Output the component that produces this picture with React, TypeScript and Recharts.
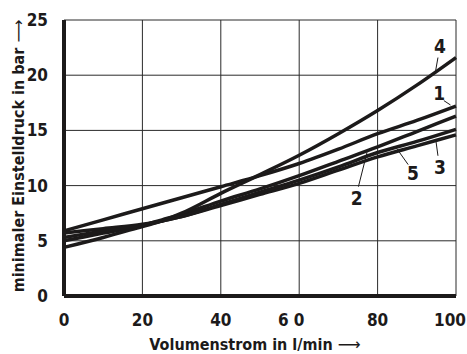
import React from "react";
import {
  LineChart,
  Line,
  XAxis,
  YAxis,
  CartesianGrid,
  ReferenceLine,
  ReferenceDot,
} from "recharts";

// Volumenstrom (l/min)
const flow = [0, 10, 20, 25, 30, 40, 50, 60, 70, 80, 90, 100];

// minimaler Einstelldruck (bar) per curve
const curve1 = [5.9, 6.9, 7.9, 8.4, 8.9, 9.9, 10.9, 12.0, 13.3, 14.7, 15.9, 17.2];
const curve2 = [5.0, 5.7, 6.4, 6.9, 7.4, 8.6, 9.7, 10.9, 12.2, 13.5, 14.9, 16.3];
const curve3 = [5.7, 6.1, 6.5, 6.8, 7.2, 8.2, 9.2, 10.2, 11.4, 12.6, 13.6, 14.6];
const curve4 = [4.4, 5.3, 6.3, 6.8, 7.5, 9.3, 11.0, 12.75, 14.7, 16.8, 19.1, 21.6];
const curve5 = [5.3, 5.9, 6.4, 6.8, 7.2, 8.3, 9.4, 10.5, 11.7, 13.0, 14.0, 15.1];

const xTicks = [0, 20, 40, 60, 80, 100];
const xTickLabels = ["0", "20", "40", "6 0", "80", "100"];
const yTicks = [0, 5, 10, 15, 20, 25];

// curve labels: text position and leader line (data units)
const labelNames = ["4", "1", "3", "5", "2"];
const labelAt = [
  { x: 95.9, y: 22.6 },
  { x: 95.7, y: 18.4 },
  { x: 95.9, y: 11.7 },
  { x: 89.0, y: 11.1 },
  { x: 74.7, y: 8.9 },
];
const leaderFrom = [
  { x: 95.4, y: 21.6 },
  { x: 96.9, y: 17.7 },
  { x: 94.9, y: 14.0 },
  { x: 85.0, y: 13.3 },
  { x: 77.3, y: 13.0 },
];
const leaderTo = [
  { x: 94.8, y: 20.4 },
  { x: 98.6, y: 17.3 },
  { x: 95.4, y: 12.7 },
  { x: 87.8, y: 11.9 },
  { x: 75.1, y: 9.9 },
];

const data = flow.map((f, i) => ({
  flow: f,
  c1: curve1[i],
  c2: curve2[i],
  c3: curve3[i],
  c4: curve4[i],
  c5: curve5[i],
}));

const FONT = "'DejaVu Sans Condensed', 'Liberation Sans Narrow', Arial, sans-serif";
const INK = "#1c1a1a";

const XTick = ({ x, y, payload }: any) => {
  const i = xTicks.indexOf(payload.value);
  const dx = payload.value === 60 ? -8 : payload.value === 100 ? -5 : 0;
  return (
    <text
      x={x + dx}
      y={y + 9}
      textAnchor="middle"
      dominantBaseline="hanging"
      fontFamily={FONT}
      fontWeight={700}
      fontSize={17}
      fill={INK}
    >
      {xTickLabels[i]}
    </text>
  );
};

const YTick = ({ x, y, payload }: any) => (
  <text
    x={x - 8}
    y={y}
    textAnchor="end"
    dominantBaseline="central"
    fontFamily={FONT}
    fontWeight={700}
    fontSize={17}
    fill={INK}
  >
    {payload.value}
  </text>
);

const YTitle = ({ viewBox }: any) => {
  const cx = viewBox.x + 18;
  const cy = viewBox.y + viewBox.height / 2 - 2;
  return (
    <text
      x={cx}
      y={cy}
      transform={`rotate(-90 ${cx} ${cy})`}
      textAnchor="middle"
      dominantBaseline="central"
      fontFamily={FONT}
      fontWeight={700}
      fontSize={16}
      fill={INK}
    >
      minimaler Einstelldruck in bar <tspan fontWeight={400} fontFamily="DejaVu Sans">⟶</tspan>
    </text>
  );
};

const XTitle = ({ viewBox }: any) => (
  <text
    x={viewBox.x + 191}
    y={viewBox.y + 48}
    textAnchor="middle"
    dominantBaseline="central"
    fontFamily={FONT}
    fontWeight={700}
    fontSize={16}
    fill={INK}
  >
    Volumenstrom in l/min <tspan fontWeight={400} fontFamily="DejaVu Sans">⟶</tspan>
  </text>
);

const CurveLabel = (text: string) => ({ viewBox }: any) => (
  <text
    x={viewBox.x + viewBox.width / 2}
    y={viewBox.y + viewBox.height / 2}
    textAnchor="middle"
    dominantBaseline="central"
    fontFamily={FONT}
    fontWeight={700}
    fontSize={19}
    fill={INK}
  >
    {text}
  </text>
);

export default function App() {
  const series = ["c1", "c2", "c3", "c4", "c5"];
  return (
    <div style={{ position: "absolute", left: 0, top: 0, background: "#fff" }}>
      <LineChart
        width={467}
        height={354}
        data={data}
        margin={{ top: 20, right: 11, left: 0, bottom: 28 }}
      >
        <CartesianGrid stroke="#2a2a2a" strokeWidth={1} fill="none" />
        <XAxis
          dataKey="flow"
          type="number"
          domain={[0, 100]}
          ticks={xTicks}
          tick={<XTick />}
          tickLine={false}
          axisLine={{ stroke: INK, strokeWidth: 4 }}
          height={30}
          label={<XTitle />}
        />
        <YAxis
          type="number"
          domain={[0, 25]}
          ticks={yTicks}
          tick={<YTick />}
          tickLine={false}
          axisLine={{ stroke: INK, strokeWidth: 4 }}
          width={64}
          label={<YTitle />}
        />
        {series.map((k) => (
          <Line
            key={k}
            dataKey={k}
            type="monotone"
            stroke={INK}
            strokeWidth={3.5}
            dot={false}
            activeDot={false}
            isAnimationActive={false}
          />
        ))}
        {labelNames.map((n, i) => (
          <ReferenceLine
            key={"l" + n}
            segment={[leaderFrom[i], leaderTo[i]]}
            stroke={INK}
            strokeWidth={1}
            ifOverflow="visible"
          />
        ))}
        {labelNames.map((n, i) => (
          <ReferenceDot
            key={"t" + n}
            x={labelAt[i].x}
            y={labelAt[i].y}
            r={0}
            stroke="none"
            fill="none"
            ifOverflow="visible"
            label={CurveLabel(n)}
          />
        ))}
      </LineChart>
    </div>
  );
}
